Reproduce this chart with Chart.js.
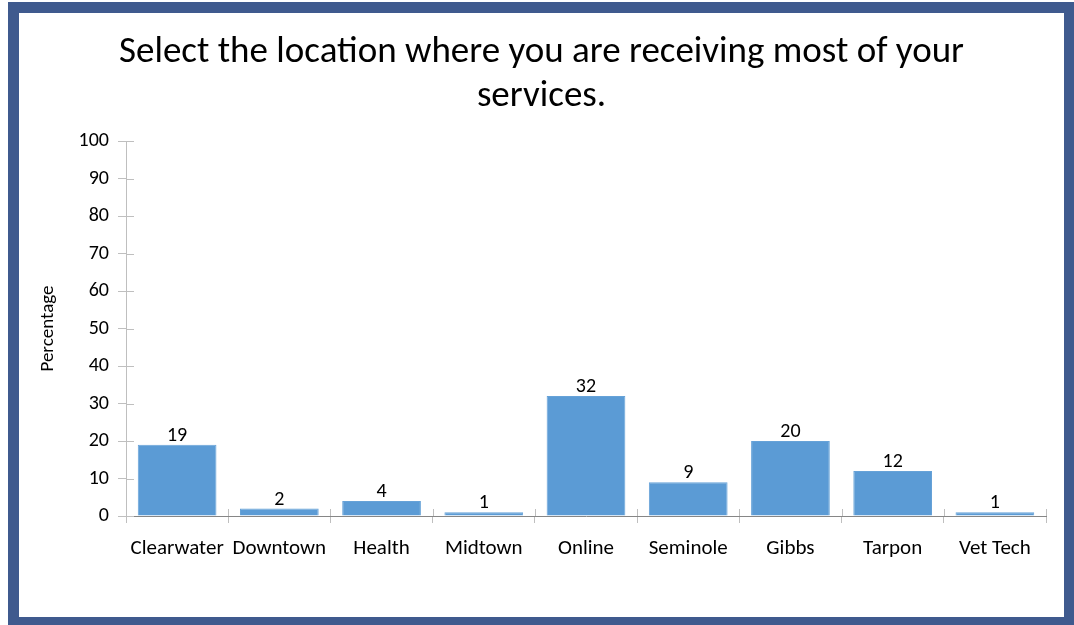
<!DOCTYPE html>
<html>
<head>
<meta charset="utf-8">
<script src="https://cdn.jsdelivr.net/npm/chart.js@4/dist/chart.umd.min.js"></script>
<style>
  html, body { margin: 0; padding: 0; background: #ffffff; overflow: hidden; }
  body { width: 1074px; height: 625px; position: relative; }
  .frame {
    position: absolute; left: 8px; top: 2px;
    width: 1067px; height: 626px;
    box-sizing: border-box;
    border: 11px solid #3F5A8E;
    background: #ffffff;
  }
  #chart { position: absolute; left: 19px; top: 13px; }
</style>
</head>
<body>
<div class="frame"></div>
<canvas id="chart" width="1045" height="604"></canvas>
<script>
// Survey responses by campus location (percent of respondents)
const categories = ['Clearwater', 'Downtown', 'Health', 'Midtown', 'Online', 'Seminole', 'Gibbs', 'Tarpon', 'Vet Tech'];
const percentages = [19, 2, 4, 1, 32, 9, 20, 12, 1];
const yTicks = [0, 10, 20, 30, 40, 50, 60, 70, 80, 90, 100];

const FONT = 'Carlito, Calibri, Lato, sans-serif';

// Value labels above each bar plus "cross" style tick stubs inside the plot
const decorations = {
  id: 'decorations',
  afterDatasetsDraw(chart) {
    const ctx = chart.ctx;
    const meta = chart.getDatasetMeta(0);
    ctx.save();
    ctx.fillStyle = '#000000';
    ctx.font = '20px ' + FONT;
    ctx.textAlign = 'center';
    ctx.textBaseline = 'alphabetic';
    meta.data.forEach((bar, i) => {
      ctx.fillText(String(percentages[i]), bar.x, bar.y - 4);
    });
    ctx.restore();
  },
  afterDraw(chart) {
    const ctx = chart.ctx;
    const xs = chart.scales.x;
    const ys = chart.scales.y;
    ctx.save();
    ctx.strokeStyle = '#BFBFBF';
    ctx.lineWidth = 1;
    ctx.beginPath();
    ys.ticks.forEach(t => {
      const y = Math.round(ys.getPixelForValue(t.value)) + 0.5;
      ctx.moveTo(ys.right, y);
      ctx.lineTo(ys.right + 8, y);
    });
    const n = categories.length;
    for (let i = 0; i <= n; i++) {
      const x = Math.round(xs.left + i * xs.width / n) + 0.5;
      ctx.moveTo(x, xs.top);
      ctx.lineTo(x, xs.top - 7);
    }
    ctx.stroke();
    ctx.restore();
  }
};

new Chart(document.getElementById('chart'), {
  type: 'bar',
  data: {
    labels: categories,
    datasets: [{
      data: percentages,
      backgroundColor: '#5B9BD5',
      borderColor: '#66A2D8',
      borderWidth: 1,
      barPercentage: 0.77,
      categoryPercentage: 1.0
    }]
  },
  options: {
    responsive: false,
    animation: false,
    layout: { padding: { left: 18, right: 18, top: 0, bottom: 0 } },
    plugins: {
      legend: { display: false },
      tooltip: { enabled: false },
      title: {
        display: true,
        text: ['Select the location where you are receiving most of your', 'services.'],
        color: '#000000',
        font: { family: FONT, size: 37, weight: 'normal', lineHeight: 1.19 },
        padding: { top: 18, bottom: 22 }
      }
    },
    scales: {
      x: {
        grid: { display: true, drawOnChartArea: false, offset: true, tickLength: 7, color: '#BFBFBF' },
        border: { display: true, color: '#868686', width: 1 },
        ticks: { color: '#000000', font: { family: FONT, size: 21 }, padding: 13, maxRotation: 0, autoSkip: false },
        afterFit(scale) { scale.height = 101; }
      },
      y: {
        min: 0,
        max: 100,
        afterBuildTicks(scale) { scale.ticks = yTicks.map(v => ({ value: v })); },
        grid: { display: true, drawOnChartArea: false, tickLength: 8, color: '#BFBFBF' },
        border: { display: true, color: '#BFBFBF', width: 1 },
        ticks: { color: '#000000', font: { family: FONT, size: 20 }, padding: 9 },
        title: {
          display: true,
          text: 'Percentage',
          color: '#000000',
          font: { family: FONT, size: 19 },
          padding: { top: 0, bottom: 0 }
        },
        afterFit(scale) { scale.width = 89; }
      }
    }
  },
  plugins: [decorations]
});
</script>
</body>
</html>
